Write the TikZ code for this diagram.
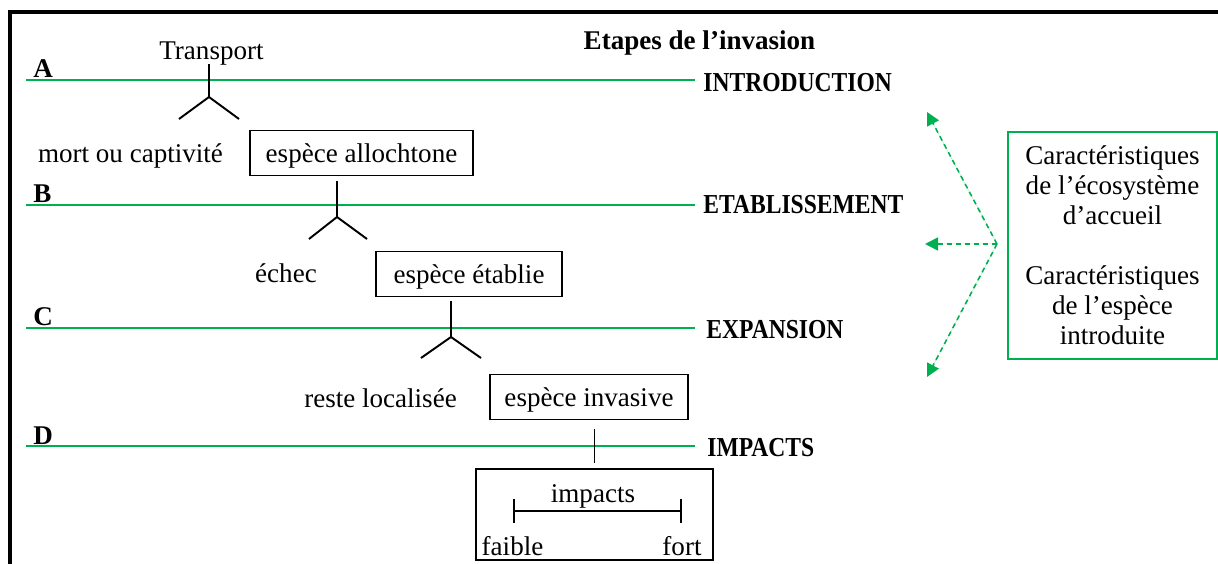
\documentclass[tikz,border=0pt]{standalone}
\usepackage{fontspec}
\setmainfont{Liberation Serif}
\newfontfamily\capfont{Liberation Serif}[FakeStretch=0.86]
\usetikzlibrary{arrows.meta}
\definecolor{lgreen}{RGB}{0,176,80}
\begin{document}
\begin{tikzpicture}[x=0.02cm,y=-0.02cm,
  txt/.style={inner sep=0pt, anchor=base, font=\fontsize{15.4}{18}\selectfont},
  ttl/.style={inner sep=0pt, anchor=base, font=\fontsize{15.4}{18}\selectfont\bfseries},
  letter/.style={inner sep=0pt, anchor=base west, font=\fontsize{15.4}{18}\selectfont\bfseries},
  stage/.style={inner sep=0pt, anchor=base west, font=\capfont\fontsize{15.6}{18}\selectfont\bfseries},
  gline/.style={draw=lgreen, line width=1.1pt},
  fork/.style={draw=black, line width=1.1pt},
  box/.style={draw, line width=1.1pt, inner sep=0pt, minimum height=0.9cm, text height=0.38cm, text depth=0pt, font=\fontsize{15.4}{18}\selectfont},
  darrow/.style={draw=lgreen, line width=0.9pt, dash pattern=on 0.1cm off 0.08cm, -{Triangle[length=0.26cm,width=0.26cm]}, fill=lgreen},
]
\useasboundingbox (0,0) rectangle (1218,564);
% frame
\draw[line width=2.8pt, line join=miter] (10,620) -- (10,12) -- (1260,12);

% title
\node[ttl] (title) at (699.5,50) {Etapes de l’invasion};

% stage lines and labels
\node[letter] (la) at (33,78) {A};
\node[letter] (lb) at (33,203) {B};
\node[letter] (lc) at (33,326) {C};
\node[letter] (ld) at (33,444) {D};
\node[stage] (intro) at (703,92) {INTRODUCTION};
\node[stage] (etab) at (703,214) {ETABLISSEMENT};
\node[stage] (expa) at (706,339) {EXPANSION};
\node[stage] (impa) at (707,457) {IMPACTS};
\coordinate (sa) at (26,80);
\coordinate (ea) at (695,80);
\coordinate (sb) at (26,205);
\coordinate (eb) at (695,205);
\coordinate (sc) at (26,328);
\coordinate (ec) at (695,328);
\coordinate (sd) at (26,446);
\coordinate (ed) at (695,446);
\draw[gline] (sa) -- (ea);
\draw[gline] (sb) -- (eb);
\draw[gline] (sc) -- (ec);
\draw[gline] (sd) -- (ed);

% texts and boxes
\node[txt] (transport) at (211.5,60) {Transport};
\node[txt] (mort) at (130.5,163) {mort ou captivité};
\node[box, minimum width=4.46cm] (allo) at (361.5,153) {espèce allochtone};
\node[txt] (echec) at (286,283) {échec};
\node[box, minimum width=3.72cm] (etabl) at (469,274) {espèce établie};
\node[txt] (reste) at (380.5,408) {reste localisée};
\node[box, minimum width=3.96cm] (inva) at (589,397) {espèce invasive};

% forks
\coordinate (j1) at (209,97);
\coordinate (l1) at (179,119);
\coordinate (r1) at (239,119);
\draw[fork, shorten <=2.2pt] (transport.base -| j1) -- (j1);
\draw[fork] (l1) -- (j1) -- (r1);
\coordinate (j2) at (337,217);
\coordinate (l2) at (309,239);
\coordinate (r2) at (367,239);
\draw[fork, shorten <=0.1cm] (allo.south -| j2) -- (j2);
\draw[fork] (l2) -- (j2) -- (r2);
\coordinate (j3) at (451,337);
\coordinate (l3) at (421,358);
\coordinate (r3) at (481,358);
\draw[fork, shorten <=0.08cm] (etabl.south -| j3) -- (j3);
\draw[fork] (l3) -- (j3) -- (r3);

% impacts box
\node[draw, line width=1.1pt, minimum width=4.74cm, minimum height=1.82cm, inner sep=0pt] (impbox) at (594.5,514.5) {};
\draw[fork, shorten <=0.18cm, shorten >=0.1cm] (inva.south -| impbox.north) -- (impbox.north);
\node[txt] (imptxt) at (593,502) {impacts};
\node[txt] (faible) at (512.5,555) {faible};
\node[txt] (fort) at (682,555) {fort};
\coordinate (b1) at (513,511);
\coordinate (b2) at (682,511);
\draw[line width=1.1pt, {Bar[width=0.48cm]}-{Bar[width=0.48cm]}] (b1) -- (b2);

% characteristics box
\node[draw=lgreen, line width=1.1pt, minimum width=4.18cm, minimum height=4.54cm, inner sep=0pt, align=center, font=\fontsize{15.4}{17.1}\selectfont] (chars) at (1112.5,245.5)
  {Caractéristiques\\de l’écosystème\\d’accueil\\[17.1pt]Caractéristiques\\de l’espèce\\introduite};
\coordinate (src) at (997,244);
\coordinate (t1) at (927,112);
\coordinate (t2) at (925,244);
\coordinate (t3) at (927,377);
\draw[darrow] (src) -- (t1);
\draw[darrow] (src) -- (t2);
\draw[darrow] (src) -- (t3);
\end{tikzpicture}
\end{document}
